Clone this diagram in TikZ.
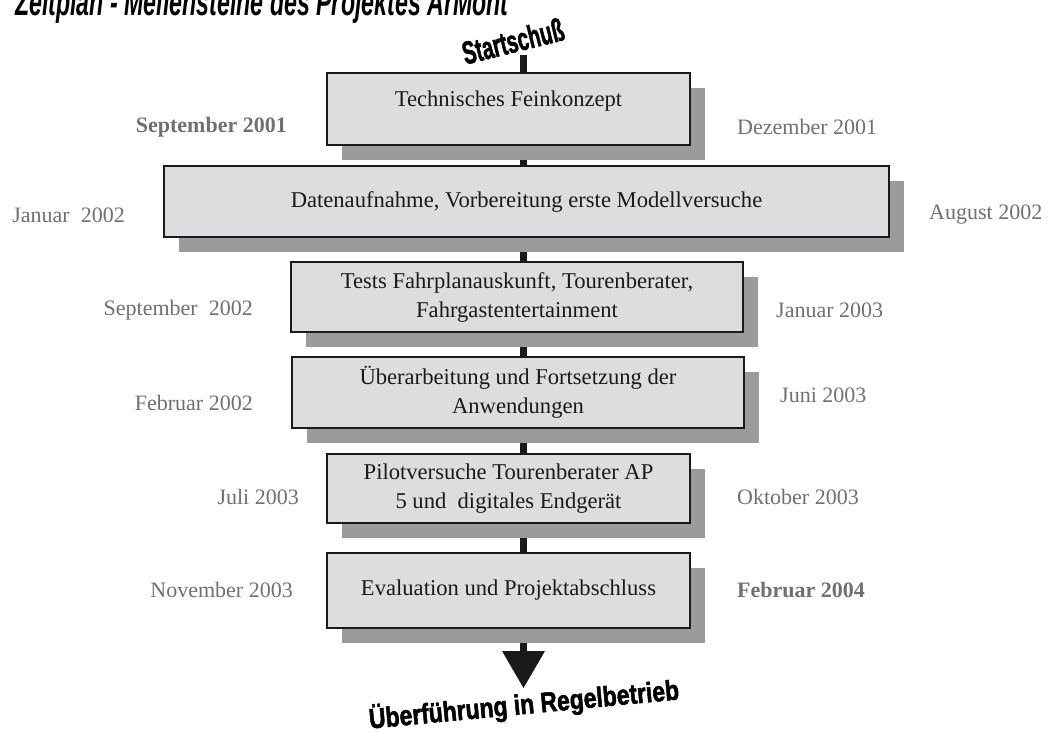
\documentclass[tikz,border=0pt]{standalone}
\usepackage{fontspec}
\setmainfont{Liberation Serif}
\newfontfamily\artfont[BoldFont={Liberation Sans Bold},BoldFeatures={FakeBold=2}]{Liberation Sans}
\usepackage{xcolor}
\definecolor{boxgray}{HTML}{DCDDDF}
\definecolor{shadegray}{HTML}{9B9B9B}
\definecolor{dategray}{HTML}{707070}
\definecolor{inkblack}{HTML}{1A1A1A}
\usepackage{tikz}
\usetikzlibrary{arrows.meta,shadows,backgrounds,positioning}

\begin{document}
\begin{tikzpicture}[x=1pt,y=-1pt,>=Stealth]
            \tikzstyle{phase}=[draw=inkblack,line width=1.8pt,fill=boxgray,text=inkblack,align=center,inner sep=0pt,
                               font=\fontsize{22.6}{29}\selectfont,
                               drop shadow={shadow xshift=15pt,shadow yshift=-15pt,fill=shadegray,opacity=1}]
            \tikzstyle{date}=[text=dategray,inner sep=0pt,font=\fontsize{22}{26}\selectfont]
            \tikzstyle{spine}=[draw=inkblack,line width=7pt]
            \tikzstyle{art}=[text=black,inner sep=0pt,transform shape]

            \useasboundingbox (0,0) rectangle (1054,732);
            \clip (0,0) rectangle (1054,732);

            \node[art,font=\artfont\bfseries\itshape\fontsize{38}{38}\selectfont,anchor=base west,xscale=0.61] (title) at (15,15)
                {Zeitplan - Meilensteine des Projektes ArMont};

            \node[phase,minimum width=363pt,minimum height=72pt,text depth=21pt] (b1) at (508.5,109) {Technisches Feinkonzept};
            \node[phase,minimum width=725pt,minimum height=71pt] (b2) at (526.5,201.5) {Datenaufnahme, Vorbereitung erste Modellversuche};
            \node[phase,minimum width=452pt,minimum height=70pt] (b3) at (517,297) {Tests Fahrplanauskunft, Tourenberater,\\Fahrgastentertainment};
            \node[phase,minimum width=452pt,minimum height=71pt] (b4) at (518,392.5) {Überarbeitung und Fortsetzung der\\Anwendungen};
            \node[phase,minimum width=363pt,minimum height=69pt] (b5) at (508.5,488.5) {Pilotversuche Tourenberater AP\\5 und\ \ digitales Endgerät};
            \node[phase,minimum width=363pt,minimum height=75pt] (b6) at (508.5,590.5) {Evaluation und Projektabschluss};

            \node[date,font=\bfseries\fontsize{22}{26}\selectfont,anchor=east] (d1l) at (287,127) {September 2001};
            \node[date,anchor=west] (d1r) at (737,127) {Dezember 2001};
            \node[date,anchor=east] (d2l) at (125,215) {Januar\ \ 2002};
            \node[date,anchor=west] (d2r) at (929,215) {August 2002};
            \node[date,anchor=east] (d3l) at (253,310) {September\ \ 2002};
            \node[date,anchor=west] (d3r) at (776,310) {Januar 2003};
            \node[date,anchor=east] (d4l) at (253,403) {Februar 2002};
            \node[date,anchor=west] (d4r) at (780,395) {Juni 2003};
            \node[date,anchor=east] (d5l) at (299,497) {Juli 2003};
            \node[date,anchor=west] (d5r) at (737,497) {Oktober 2003};
            \node[date,anchor=east] (d6l) at (293,590) {November 2003};
            \node[date,font=\bfseries\fontsize{22}{26}\selectfont,anchor=west] (d6r) at (737,590) {Februar 2004};

            \node[art,font=\artfont\bfseries\fontsize{32}{32}\selectfont,rotate=14,xscale=0.62] (go) at (513,41) {Startschuß};
            \node[art,font=\artfont\bfseries\fontsize{28}{28}\selectfont,rotate=5.4,xscale=0.82] (goal) at (524,705) {Überführung in Regelbetrieb};

            \coordinate (start) at (523.5,55);
            \coordinate (tip) at (523.5,688);

            % the time line runs behind boxes and shadows
            \begin{scope}[on background layer]
                \draw[spine] (start) -- (b1.north -| start);
                \foreach \a/\b in {b1/b2,b2/b3,b3/b4,b4/b5,b5/b6}
                    \draw[spine] (\a.south -| start) -- (\b.north -| start);
                \draw[spine,-{Triangle[width=43pt,length=37pt,line width=0pt]}] (b6.south -| start) -- (tip);
            \end{scope}
\end{tikzpicture}
\end{document}
